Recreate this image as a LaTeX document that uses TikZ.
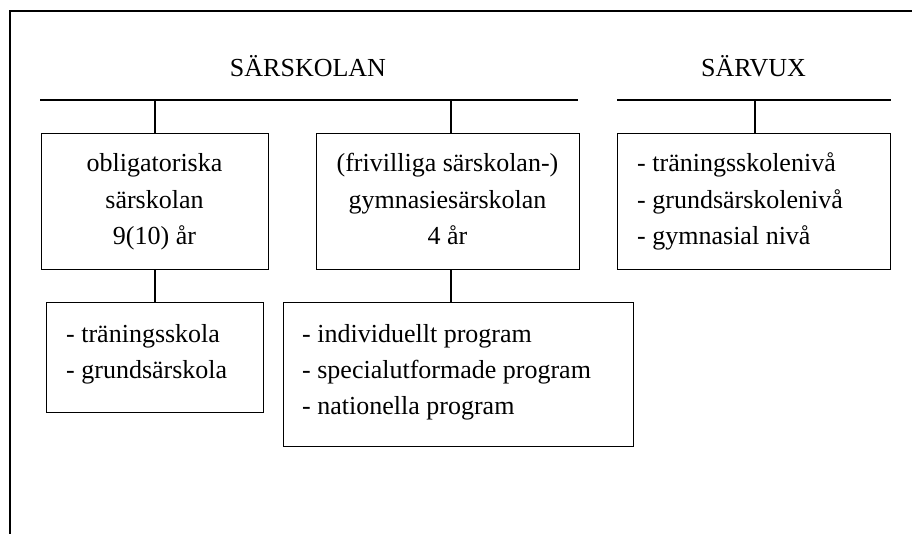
\documentclass[tikz,border=0pt]{standalone}
\usepackage{fontspec}
\setmainfont{Liberation Serif}
\begin{document}
\begin{tikzpicture}[x=1pt,y=-1pt,
  box/.style={draw, line width=1.3pt, inner sep=0pt, anchor=north west},
  txt/.style={inner sep=0pt, font=\fontsize{26}{30}\selectfont},
  ctr/.style={txt, anchor=base},
  lft/.style={txt, anchor=base west},
  bar/.style={line width=1.7pt},
  conn/.style={line width=1.2pt},
  framel/.style={line width=2.4pt}]
\useasboundingbox (0,0) rectangle (912,534);
% frame (top and left)
\coordinate (fA) at (912,11);
\coordinate (fB) at (10,11);
\coordinate (fC) at (10,534);
\draw[framel] (fA) -- (fB) -- (fC);
% headings
\node[ctr] (hs) at (308,77) {SÄRSKOLAN};
\node[ctr] (hv) at (753.5,77) {SÄRVUX};
% bars
\coordinate (l1) at (40,100);
\coordinate (l2) at (578,100);
\coordinate (r1) at (617,100);
\coordinate (r2) at (891,100);
\draw[bar] (l1) -- (l2);
\draw[bar] (r1) -- (r2);
% boxes
\node[box, minimum width=227pt, minimum height=136pt] (b1) at (41,133) {};
\node[box, minimum width=263pt, minimum height=136pt] (b2) at (316,133) {};
\node[box, minimum width=273pt, minimum height=136pt] (b3) at (617,133) {};
\node[box, minimum width=217pt, minimum height=110pt] (b4) at (46,302) {};
\node[box, minimum width=350pt, minimum height=144pt] (b5) at (283,302) {};
% connector positions
\coordinate (c1) at (155,100);
\coordinate (c2) at (451,100);
\coordinate (c3) at (755,100);
\draw[conn] (c1) -- (c1 |- b1.north);
\draw[conn] (c2) -- (c2 |- b2.north);
\draw[conn] (c3) -- (c3 |- b3.north);
\draw[conn] (c1 |- b1.south) -- (c1 |- b4.north);
\draw[conn] (c2 |- b2.south) -- (c2 |- b5.north);
% texts box 1
\node[ctr] (t11) at (154.5,172) {obligatoriska};
\node[ctr] (t12) at (154.5,208.5) {särskolan};
\node[ctr] (t13) at (154.5,245) {9(10) år};
% texts box 2
\node[ctr] (t21) at (447.5,172) {(frivilliga särskolan-)};
\node[ctr] (t22) at (447.5,208.5) {gymnasiesärskolan};
\node[ctr] (t23) at (447.5,245) {4 år};
% texts box 3
\node[lft] (t31) at (637,172) {- träningsskolenivå};
\node[lft] (t32) at (637,208.5) {- grundsärskolenivå};
\node[lft] (t33) at (637,245) {- gymnasial nivå};
% texts box 4
\node[lft] (t41) at (66,342) {- träningsskola};
\node[lft] (t42) at (66,378) {- grundsärskola};
% texts box 5
\node[lft] (t51) at (302,342) {- individuellt program};
\node[lft] (t52) at (302,378) {- specialutformade program};
\node[lft] (t53) at (302,414) {- nationella program};
\end{tikzpicture}
\end{document}
